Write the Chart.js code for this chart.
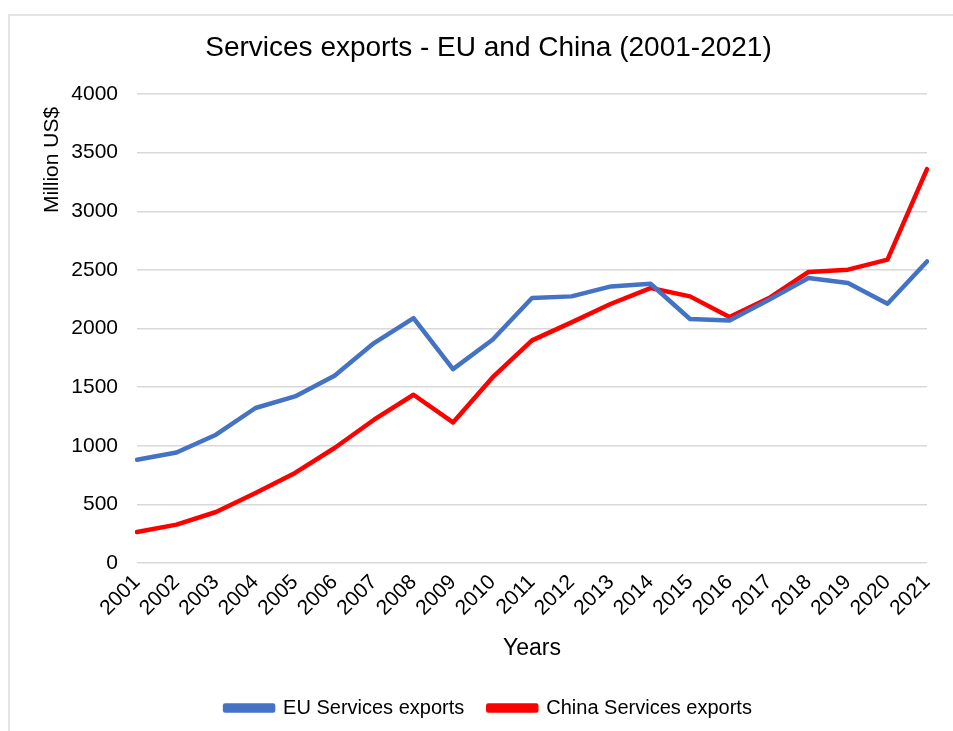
<!DOCTYPE html>
<html>
<head>
<meta charset="utf-8">
<script src="https://cdn.jsdelivr.net/npm/chart.js@4"></script>
<style>
  html, body { margin: 0; padding: 0; background: #fff; }
  body { width: 953px; height: 731px; position: relative; overflow: hidden; }
  .frame {
    position: absolute; left: 8px; top: 14px; width: 2000px; height: 2000px;
    border-left: 2px solid #e4e4e4; border-top: 2px solid #e4e4e4;
  }
  #playground { position: absolute; left: 0; top: 0; }
</style>
</head>
<body>
<div class="frame"></div>
<canvas id="playground" width="953" height="731"></canvas>
<script>
//services exports chart

const years = [
  '2001', '2002', '2003', '2004', '2005', '2006', '2007',
  '2008', '2009', '2010', '2011', '2012', '2013', '2014',
  '2015', '2016', '2017', '2018', '2019', '2020', '2021',
]

const euExports = [
  881, 943, 1094, 1322, 1421, 1597, 1876,
  2089, 1654, 1904, 2260, 2274, 2359, 2382,
  2081, 2069, 2246, 2431, 2388, 2211, 2572,
]

const chinaExports = [
  264, 327, 435, 597, 768, 981, 1222,
  1435, 1199, 1583, 1899, 2052, 2211, 2345,
  2274, 2098, 2260, 2482, 2502, 2587, 3360,
]

const yTicks = [0, 500, 1000, 1500, 2000, 2500, 3000, 3500, 4000]

const fontFamily = "'Liberation Sans', Arial, sans-serif"

// y axis title sits near the top of the axis, like the original
const yTitlePlugin = {
  id: 'yTitle',
  afterDraw(chart) {
    const ctx = chart.ctx
    ctx.save()
    ctx.translate(52, 160)
    ctx.rotate(-Math.PI / 2)
    ctx.font = `21px ${fontFamily}`
    ctx.fillStyle = '#000'
    ctx.textAlign = 'center'
    ctx.textBaseline = 'middle'
    ctx.fillText('Million US$', 0, 0)
    ctx.restore()
  },
}

const makeSeries = (label, color, data) => {
  return {
    label: label,
    data: data,
    borderColor: color,
    backgroundColor: color,
    borderWidth: 4.5,
    pointRadius: 0,
    tension: 0,
    borderJoinStyle: 'round',
    borderCapStyle: 'round',
  }
}

const plotChart = () => {
  const ctx = document.getElementById('playground').getContext('2d')
  const myChart = new Chart(ctx, {
    type: 'line',
    data: {
      labels: years,
      datasets: [
        makeSeries('EU Services exports', '#4472C4', euExports),
        makeSeries('China Services exports', '#FF0000', chinaExports),
      ],
    },
    options: {
      responsive: false,
      animation: false,
      layout: {
        padding: { top: 31, right: 26, left: 50, bottom: 3 },
      },
      scales: {
        y: {
          min: 0,
          max: 4000,
          afterFit: (scale) => {
            scale.width = 87
          },
          afterBuildTicks: (scale) => {
            scale.ticks = yTicks.map((v) => ({ value: v }))
          },
          border: { display: false },
          grid: {
            color: '#d9d9d9',
            lineWidth: 1.5,
            drawTicks: false,
          },
          ticks: {
            padding: 19,
            color: '#000',
            font: { family: fontFamily, size: 21 },
            callback: (value) => String(value),
          },
        },
        x: {
          afterFit: (scale) => {
            scale.height = 111
          },
          border: { display: false },
          grid: { display: false, drawTicks: false },
          ticks: {
            autoSkip: false,
            maxRotation: 45,
            minRotation: 45,
            padding: 7,
            color: '#000',
            font: { family: fontFamily, size: 21 },
          },
          title: {
            display: true,
            text: 'Years',
            color: '#000',
            padding: { top: 0, bottom: 12 },
            font: { family: fontFamily, size: 23 },
          },
        },
      },
      plugins: {
        title: {
          display: true,
          text: 'Services exports - EU and China (2001-2021)',
          color: '#000',
          padding: { top: 0, bottom: 29.4 },
          font: { family: fontFamily, size: 28, weight: 'normal' },
        },
        legend: {
          position: 'bottom',
          labels: {
            boxWidth: 48,
            boxHeight: 5,
            padding: 24,
            color: '#000',
            font: { family: fontFamily, size: 20 },
          },
        },
        tooltip: { enabled: false },
      },
    },
    plugins: [yTitlePlugin],
  })

  return myChart
}

plotChart()
</script>
</body>
</html>
